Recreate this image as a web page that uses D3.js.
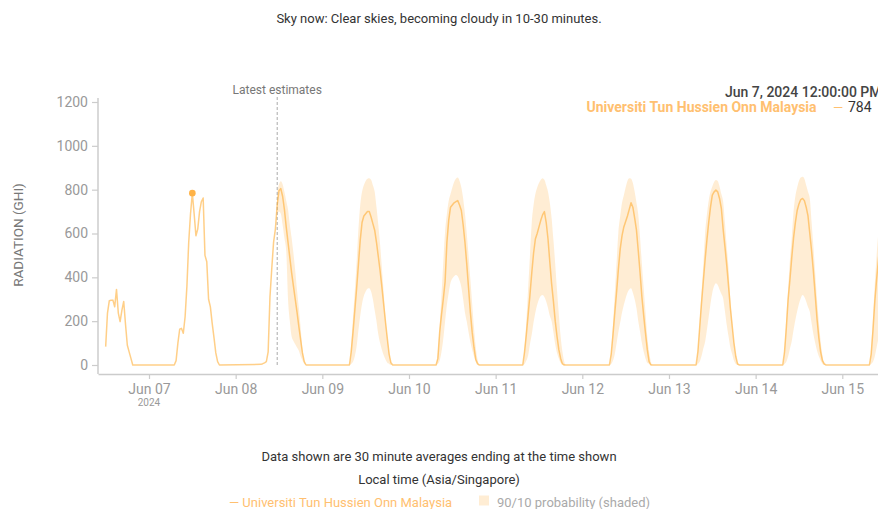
<!DOCTYPE html>
<html><head><meta charset="utf-8">
<script src="https://cdn.jsdelivr.net/npm/d3@7"></script>
<style>
html,body{margin:0;padding:0;background:#fff;overflow:hidden;}
svg{display:block;font-family:Roboto,"Noto Sans",sans-serif;}
</style></head><body>
<svg id="chart" width="878" height="509"></svg>
<script>
// ---------------- DATA ----------------
const titleText = "Sky now: Clear skies, becoming cloudy in 10-30 minutes.";
const siteName = "Universiti Tun Hussien Onn Malaysia";
const yAxisTitle = "RADIATION (GHI)";
const yTicks = [0, 200, 400, 600, 800, 1000, 1200];
const yearLabel = "2024";
const latestEstimateTime = "2024-06-08T11:30";
const highlightTime = "2024-06-07T12:00";
const highlightLabel = "Jun 7, 2024 12:00:00 PM";
const footnotes = ["Data shown are 30 minute averages ending at the time shown", "Local time (Asia/Singapore)"];

// each daily row holds 30-minute values from 07:00 to 19:30 (26 slots); nights are 0
const firstSlotMinutes = 7 * 60;
const slotMinutes = 30;

const actualDays = ["2024-06-06", "2024-06-07", "2024-06-08"];
const actualGhi = [
  [null,null,null,null,null,null,null,null,null,null, 84,237,293,295,296,266,345,237,198,250,290,185,90,60,30,0],
  [0,20,100,163,167,145,220,360,560,690, 784,690,590,620,700,745,762,500,471,300,265,190,125,55,15,0],
  [3,6,10,15,60,310,440,560,620,730, null,null,null,null,null,null,null,null,null,null,null,null,null,null,null,null]
];

const forecastDays = ["2024-06-08","2024-06-09","2024-06-10","2024-06-11","2024-06-12","2024-06-13","2024-06-14","2024-06-15"];
const forecastMedian = [
  [null,null,null,null,null,null,null,null,null,730,795,805,770,710,630,560,490,420,360,300,240,175,115,55,15,0],
  [0,0,60,150,250,350,460,570,650,680,690,700,700,675,645,615,560,495,430,355,275,195,120,50,10,0],
  [0,0,30,150,230,300,380,560,660,720,730,740,745,750,730,705,640,560,460,350,240,150,80,25,5,0],
  [0,0,60,140,230,320,420,510,575,600,630,660,685,700,650,575,470,370,290,200,130,70,30,5,0,0],
  [0,0,50,140,240,335,440,530,590,630,655,680,710,740,720,670,615,520,420,310,225,145,70,15,0,0],
  [0,0,60,170,280,380,480,570,650,720,775,790,798,790,760,715,620,540,456,360,260,180,100,40,5,0],
  [0,0,60,170,300,390,490,580,650,705,735,755,760,750,720,680,600,520,426,320,210,125,60,20,5,0],
  [0,0,50,160,290,390,480,570,640,690,720,740,745,735,710,670,600,520,430,330,230,140,70,20,5,0]
];
const forecastP90 = [
  [null,null,null,null,null,null,null,null,null,790,825,838,825,790,750,710,640,580,510,430,340,260,170,70,20,0],
  [0,0,100,220,340,470,620,730,790,820,840,850,852,845,820,790,720,640,550,440,330,220,130,60,15,0],
  [0,0,60,180,320,470,608,690,750,780,810,835,850,855,840,810,760,690,600,500,390,280,170,80,25,0],
  [0,0,80,200,350,500,650,730,780,810,830,845,852,845,820,790,740,670,570,460,340,230,130,60,15,0],
  [0,0,70,190,330,470,608,680,740,775,810,840,852,850,830,790,740,685,580,460,350,240,130,60,15,0],
  [0,0,70,200,330,456,600,685,750,790,815,835,844,840,815,780,745,650,540,440,300,200,110,45,10,0],
  [0,0,80,220,350,480,580,700,770,810,840,855,859,850,820,790,760,650,540,420,300,200,110,45,10,0],
  [0,0,80,220,370,500,610,700,760,800,830,850,855,845,820,780,720,640,550,440,330,220,130,60,15,0]
];
const forecastP10 = [
  [null,null,null,null,null,null,null,null,null,690,700,690,640,580,520,300,200,130,110,95,80,65,40,20,5,0],
  [0,0,5,15,40,85,160,225,280,315,335,348,350,335,300,250,200,140,100,70,45,25,10,5,0,0],
  [0,0,5,20,60,120,200,275,330,375,395,405,411,405,385,355,300,240,198,150,105,70,40,15,5,0],
  [0,0,5,20,45,95,140,195,240,275,300,315,319,310,290,260,225,200,150,95,55,30,10,5,0,0],
  [0,0,5,20,50,100,152,195,240,275,305,330,345,350,330,300,259,200,152,100,60,30,10,5,0,0],
  [0,0,5,15,40,75,106,160,220,280,330,360,373,365,345,325,304,245,182,130,80,50,20,5,0,0],
  [0,0,5,15,40,75,110,160,205,245,280,305,319,310,290,265,243,190,140,100,65,40,20,5,0,0],
  [0,0,5,15,40,80,120,170,220,260,290,310,320,310,290,260,220,170,130,90,60,35,15,5,0,0]
];

// ---------------- BUILD ----------------
const parseDay = d3.timeParse("%Y-%m-%d");
const parseTime = d3.timeParse("%Y-%m-%dT%H:%M");
function slotTime(dayStr, i) { return d3.timeMinute.offset(parseDay(dayStr), firstSlotMinutes + i * slotMinutes); }
function toPoints(days, rows) {
  const out = [];
  days.forEach((ds, di) => rows[di].forEach((v, i) => { if (v != null) out.push({ t: slotTime(ds, i), v }); }));
  return out;
}
const actualPts = toPoints(actualDays, actualGhi);
const medianPts = toPoints(forecastDays, forecastMedian);
const bandPts = [];
forecastDays.forEach((ds, di) => forecastP90[di].forEach((hi, i) => {
  const lo = forecastP10[di][i];
  if (hi != null && lo != null) bandPts.push({ t: slotTime(ds, i), lo, hi });
}));
const linePts = actualPts.concat(medianPts.filter(p => p.t > actualPts[actualPts.length - 1].t));

const svg = d3.select("#chart");
const W = 878;
const x = d3.scaleTime().domain([parseDay("2024-06-07"), parseDay("2024-06-15")]).range([149, 842.3]);
const y = d3.scaleLinear().domain([0, 1200]).range([365, 102]);
const plotLeft = 98, axisY = 374, axisTop = 98;

const orange = "#ffa726";

// title
svg.append("text").attr("x", 439).attr("y", 22.5).attr("text-anchor", "middle")
  .attr("font-size", 13).attr("fill", "#333").text(titleText);

// band
svg.append("path").datum(bandPts)
  .attr("d", d3.area().x(d => x(d.t)).y0(d => y(d.lo)).y1(d => y(d.hi)).curve(d3.curveMonotoneX))
  .attr("fill", orange).attr("fill-opacity", 0.2);

// latest estimates
const xl = x(parseTime(latestEstimateTime));
svg.append("line").attr("x1", xl).attr("x2", xl).attr("y1", axisTop - 1).attr("y2", y(0))
  .attr("stroke", "#aaa").attr("stroke-width", 1).attr("stroke-dasharray", "3,2");
svg.append("text").attr("x", xl).attr("y", 93.5).attr("text-anchor", "middle")
  .attr("font-size", 12).attr("fill", "#777").text("Latest estimates");

// line
svg.append("path").datum(linePts)
  .attr("d", d3.line().x(d => x(d.t)).y(d => y(d.v)))
  .attr("fill", "none").attr("stroke", orange).attr("stroke-opacity", 0.55)
  .attr("stroke-width", 1.5).attr("stroke-linejoin", "round");

// highlight dot
const hT = parseTime(highlightTime);
const hp = linePts.find(p => +p.t === +hT);
svg.append("circle").attr("cx", x(hp.t)).attr("cy", y(hp.v)).attr("r", 3.3).attr("fill", "#ffb347");

// axes
const xAxisScale = x.copy().domain([x.invert(plotLeft), x.invert(W + 20)]).range([plotLeft, W + 20]);
const gx = svg.append("g").attr("transform", `translate(0,${axisY})`)
  .call(d3.axisBottom(xAxisScale).ticks(d3.timeDay.every(1)).tickFormat(d3.timeFormat("%b %d"))
    .tickSize(5).tickSizeOuter(0).tickPadding(5));
gx.select(".domain").attr("stroke", "#ccc").attr("stroke-width", 1.5);
gx.selectAll(".tick line").attr("stroke", "#ccc").attr("stroke-width", 1.2);
gx.selectAll(".tick text").attr("fill", "#999").attr("font-size", 14).attr("font-family", "Roboto");
svg.append("text").attr("x", x(parseDay("2024-06-07"))).attr("y", 405.5).attr("text-anchor", "middle")
  .attr("font-size", 10).attr("fill", "#999").text(yearLabel);

const gy = svg.append("g").attr("transform", `translate(${plotLeft},0)`)
  .call(d3.axisLeft(y).tickValues(yTicks).tickFormat(d3.format("d")).tickSize(6).tickPadding(4).tickSizeOuter(0));
gy.select(".domain").remove();
gy.selectAll(".tick line").attr("stroke", "#ccc").attr("stroke-width", 1.2);
gy.selectAll(".tick text").attr("fill", "#999").attr("font-size", 14).attr("font-family", "Roboto");
svg.append("line").attr("x1", plotLeft).attr("x2", plotLeft).attr("y1", axisTop).attr("y2", axisY)
  .attr("stroke", "#ccc").attr("stroke-width", 1.5);

svg.append("text").attr("transform", `translate(22.5,235) rotate(-90)`).attr("text-anchor", "middle")
  .attr("font-size", 13.5).attr("fill", "#777").text(yAxisTitle);

// tooltip top right
svg.append("text").attr("x", 725).attr("y", 96.5).attr("font-size", 14).attr("font-weight", 500)
  .attr("fill", "#444").text(highlightLabel);
svg.append("text").attr("x", 586.5).attr("y", 112).attr("font-size", 14).attr("font-weight", "bold")
  .attr("fill", "#ffc070").text(siteName);
svg.append("text").attr("x", 833).attr("y", 112).attr("font-size", 13).attr("fill", "#ffc070").text("—");
svg.append("text").attr("x", 848).attr("y", 112).attr("font-size", 14).attr("fill", "#333").text(String(hp.v));

// footnotes
svg.append("text").attr("x", 439).attr("y", 461).attr("text-anchor", "middle")
  .attr("font-size", 13).attr("fill", "#333").text(footnotes[0]);
svg.append("text").attr("x", 439).attr("y", 483.5).attr("text-anchor", "middle")
  .attr("font-size", 13).attr("fill", "#333").text(footnotes[1]);

// legend
svg.append("text").attr("x", 229).attr("y", 506.5).attr("font-size", 13).attr("fill", "#ffc070")
  .text("— " + siteName);
svg.append("rect").attr("x", 479).attr("y", 495.5).attr("width", 10).attr("height", 10)
  .attr("fill", orange).attr("fill-opacity", 0.2);
svg.append("text").attr("x", 497).attr("y", 506.5).attr("font-size", 13).attr("fill", "#aaa")
  .text("90/10 probability (shaded)");
</script>
</body></html>
